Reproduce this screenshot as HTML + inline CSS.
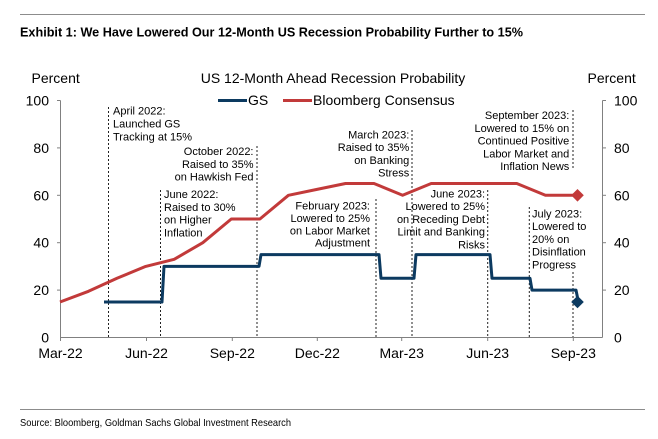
<!DOCTYPE html>
<html><head><meta charset="utf-8"><style>
html,body{margin:0;padding:0;background:#fff;}
svg{display:block;}
text{font-family:"Liberation Sans",Arial,sans-serif;fill:#000;}
.t11{font-size:11px;}
.t14{font-size:14px;}
</style></head><body>
<svg width="658" height="439" viewBox="0 0 658 439" xmlns="http://www.w3.org/2000/svg">
<line x1="20" y1="14.5" x2="645" y2="14.5" stroke="#8c8c8c" stroke-width="1"/>
<text x="20" y="36.7" font-family="'Liberation Sans Narrow','Liberation Sans',sans-serif" font-weight="bold" font-size="13" textLength="503" lengthAdjust="spacingAndGlyphs" fill="#1a1a1a">Exhibit 1: We Have Lowered Our 12-Month US Recession Probability Further to 15%</text>

<text class="t14" x="31.5" y="83">Percent</text>
<text class="t14" x="587.5" y="83">Percent</text>
<text class="t14" x="333" y="83" text-anchor="middle">US 12-Month Ahead Recession Probability</text>

<line x1="218" y1="100.5" x2="247" y2="100.5" stroke="#0c3a60" stroke-width="3"/>
<text class="t14" x="248" y="105">GS</text>
<line x1="283" y1="100.5" x2="312" y2="100.5" stroke="#c23a3a" stroke-width="3"/>
<text class="t14" x="313" y="105">Bloomberg Consensus</text>

<!-- axes -->
<g stroke="#808080" stroke-width="1" fill="none">
<line x1="60.5" y1="100.5" x2="60.5" y2="337.5"/>
<line x1="602.5" y1="100.5" x2="602.5" y2="337.5"/>
<line x1="60.5" y1="337.5" x2="602.5" y2="337.5"/>
<line x1="57" y1="100.5" x2="60.5" y2="100.5"/>
<line x1="57" y1="147.9" x2="60.5" y2="147.9"/>
<line x1="57" y1="195.3" x2="60.5" y2="195.3"/>
<line x1="57" y1="242.7" x2="60.5" y2="242.7"/>
<line x1="57" y1="290.1" x2="60.5" y2="290.1"/>
<line x1="602.5" y1="100.5" x2="606" y2="100.5"/>
<line x1="602.5" y1="147.9" x2="606" y2="147.9"/>
<line x1="602.5" y1="195.3" x2="606" y2="195.3"/>
<line x1="602.5" y1="242.7" x2="606" y2="242.7"/>
<line x1="602.5" y1="290.1" x2="606" y2="290.1"/>
<line x1="60.5" y1="337.5" x2="60.5" y2="341"/>
<line x1="146.5" y1="337.5" x2="146.5" y2="341"/>
<line x1="232.3" y1="337.5" x2="232.3" y2="341"/>
<line x1="317.3" y1="337.5" x2="317.3" y2="341"/>
<line x1="401.7" y1="337.5" x2="401.7" y2="341"/>
<line x1="487.7" y1="337.5" x2="487.7" y2="341"/>
<line x1="573.3" y1="337.5" x2="573.3" y2="341"/>
</g>

<g class="t14" text-anchor="end">
<text x="49" y="105.5">100</text>
<text x="49" y="152.9">80</text>
<text x="49" y="200.3">60</text>
<text x="49" y="247.7">40</text>
<text x="49" y="295.1">20</text>
<text x="49" y="342.5">0</text>
</g>
<g class="t14">
<text x="614" y="105.5">100</text>
<text x="614" y="152.9">80</text>
<text x="614" y="200.3">60</text>
<text x="614" y="247.7">40</text>
<text x="614" y="295.1">20</text>
<text x="614" y="342.5">0</text>
</g>
<g class="t14" text-anchor="middle">
<text x="60.5" y="358">Mar-22</text>
<text x="146.5" y="358">Jun-22</text>
<text x="232.3" y="358">Sep-22</text>
<text x="317.3" y="358">Dec-22</text>
<text x="401.7" y="358">Mar-23</text>
<text x="487.7" y="358">Jun-23</text>
<text x="573.3" y="358">Sep-23</text>
</g>

<!-- dotted annotation lines -->
<g stroke="#222" stroke-width="1" stroke-dasharray="2,2" fill="none">
<line x1="108.5" y1="107" x2="108.5" y2="337"/>
<line x1="160.5" y1="190" x2="160.5" y2="337"/>
<line x1="257" y1="146" x2="257" y2="337"/>
<line x1="376" y1="199" x2="376" y2="337"/>
<line x1="412" y1="130" x2="412" y2="337"/>
<line x1="487.7" y1="190" x2="487.7" y2="337"/>
<line x1="529.3" y1="207" x2="529.3" y2="337"/>
<line x1="573" y1="110" x2="573" y2="169"/>
<line x1="573" y1="272" x2="573" y2="337"/>
</g>

<!-- series -->
<polyline fill="none" stroke="#c23a3a" stroke-width="3" stroke-linejoin="round"
 points="60,302 88.5,291.3 117,278.3 145.7,266.4 174.2,259.3 202.8,242.7 231.3,219 259.9,219 288.4,195.3 317,189.4 345.5,183.5 374,183.5 402.6,195.3 431.2,183.5 459.7,183.5 488.3,183.5 516.8,183.5 545.4,195.3 577.5,195.3"/>
<polygon points="577.5,189 583.8,195.3 577.5,201.6 571.2,195.3" fill="#c23a3a"/>

<polyline fill="none" stroke="#0c3a60" stroke-width="3" stroke-linejoin="round"
 points="104,302 162,302 164,266.4 259,266.4 261,254.6 379,254.6 381,278.3 414,278.3 416,254.6 490,254.6 492,278.3 530,278.3 532,290.1 576,290.1 578,300"/>
<polygon points="577.5,295.7 583.8,302 577.5,308.3 571.2,302" fill="#0c3a60"/>

<!-- annotations -->
<g class="t11">
<text x="113" y="114.7">April 2022:</text>
<text x="113" y="127.5">Launched GS</text>
<text x="113" y="140.3">Tracking at 15%</text>

<text x="164" y="198">June 2022:</text>
<text x="164" y="210.8">Raised to 30%</text>
<text x="164" y="223.6">on Higher</text>
<text x="164" y="236.4">Inflation</text>

<text x="532" y="217.3">July 2023:</text>
<text x="532" y="230.1">Lowered to</text>
<text x="532" y="242.9">20% on</text>
<text x="532" y="255.7">Disinflation</text>
<text x="532" y="268.5">Progress</text>
</g>
<g class="t11" text-anchor="end">
<text x="253.5" y="155">October 2022:</text>
<text x="253.5" y="167.8">Raised to 35%</text>
<text x="253.5" y="180.6">on Hawkish Fed</text>

<text x="370" y="209.7">February 2023:</text>
<text x="370" y="222">Lowered to 25%</text>
<text x="370" y="234.3">on Labor Market</text>
<text x="370" y="246.6">Adjustment</text>

<text x="409.3" y="138.3">March 2023:</text>
<text x="409.3" y="151.1">Raised to 35%</text>
<text x="409.3" y="163.9">on Banking</text>
<text x="409.3" y="176.7">Stress</text>

<text x="485" y="197.3">June 2023:</text>
<text x="485" y="210.1">Lowered to 25%</text>
<text x="485" y="222.9">on Receding Debt</text>
<text x="485" y="235.7">Limit and Banking</text>
<text x="485" y="248.5">Risks</text>

<text x="569.3" y="119">September 2023:</text>
<text x="569.3" y="131.8">Lowered to 15% on</text>
<text x="569.3" y="144.6">Continued Positive</text>
<text x="569.3" y="157.4">Labor Market and</text>
<text x="569.3" y="170.2">Inflation News</text>
</g>

<line x1="20" y1="409.5" x2="645" y2="409.5" stroke="#8c8c8c" stroke-width="1"/>
<text x="20" y="426" font-family="'Liberation Sans Narrow','Liberation Sans',sans-serif" font-size="10.5" textLength="271" lengthAdjust="spacingAndGlyphs" fill="#6e6e6e">Source: Bloomberg, Goldman Sachs Global Investment Research</text>
</svg>
</body></html>
